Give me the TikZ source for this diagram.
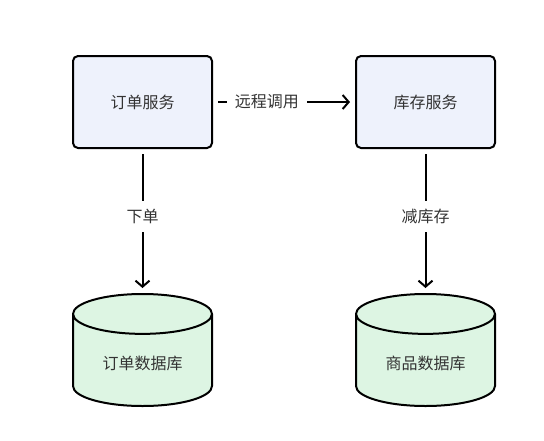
\documentclass[tikz,border=0pt]{standalone}
\usepackage{fontspec}
\setmainfont{Noto Sans CJK SC}
\usepackage{xcolor}
\usepackage{tikz}
\usetikzlibrary{shapes.geometric, arrows.meta, positioning}

\definecolor{svcfill}{HTML}{EEF2FC}
\definecolor{dbfill}{HTML}{DDF5E3}
\definecolor{txtgray}{HTML}{333333}

\begin{document}
\begin{tikzpicture}[
    node distance=142pt and 142pt,
    svc/.style={draw, line width=2pt, rounded corners=5pt, fill=svcfill, minimum width=139pt, minimum height=92pt, align=center, font=\fontsize{16pt}{18pt}\selectfont, text=txtgray},
    db/.style={cylinder, shape border rotate=90, aspect=0.46, draw, line width=2pt, fill=dbfill, minimum width=139pt, minimum height=112pt, align=center, font=\fontsize{16pt}{18pt}\selectfont, text=txtgray},
    arrow/.style={-{Straight Barb[length=6pt,width=14pt]}, line width=2pt, shorten <=5pt, shorten >=5pt},
    label/.style={fill=white, inner sep=8pt, font=\fontsize{16pt}{18pt}\selectfont, text=txtgray},
]
\useasboundingbox (0,0) rectangle (544pt,-440pt);

% Services
\node[svc] (order) at (142.5pt,-102pt) {订单服务};
\node[svc, right=142pt of order] (stock) {库存服务};

% Databases
\node[db, below=144pt of order] (orderdb) {订单数据库};
\node[db, below=144pt of stock] (gooddb) {商品数据库};

% --- Arrows ---
\draw[arrow] (order) -- node[label, pos=0.38] {远程调用} (stock);
\draw[arrow] (order) -- node[label, pos=0.47] {下单} (orderdb);
\draw[arrow] (stock) -- node[label, pos=0.47] {减库存} (gooddb);

\end{tikzpicture}
\end{document}
